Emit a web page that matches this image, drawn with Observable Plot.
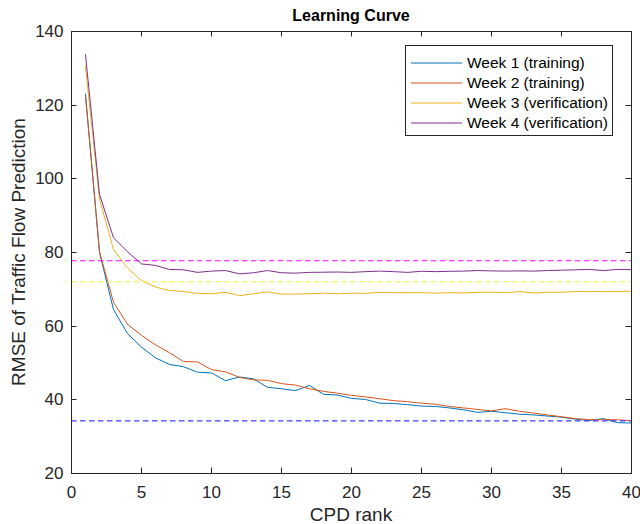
<!DOCTYPE html>
<html>
<head>
<meta charset="utf-8">
<script src="https://cdn.jsdelivr.net/npm/d3@7"></script>
<script src="https://cdn.jsdelivr.net/npm/@observablehq/plot@0.6"></script>
<style>
  html, body { margin: 0; padding: 0; background: #fff; }
  #chart { width: 640px; height: 524px; }
</style>
</head>
<body>
<div id="chart"></div>
<script>
const ranks = [1,2,3,4,5,6,7,8,9,10,11,12,13,14,15,16,17,18,19,20,21,22,23,24,25,26,27,28,29,30,31,32,33,34,35,36,37,38,39,40];
const week1 = [123,80,64.5,58,54.3,51.4,49.6,49.0,47.5,47.3,45.2,46.2,45.7,43.4,43.0,42.5,43.9,41.5,41.3,40.4,40.1,39.1,39.0,38.7,38.3,38.2,37.8,37.3,36.6,36.9,36.5,36.1,35.9,35.6,35.3,34.75,34.4,34.9,33.8,33.7];
const week2 = [122.5,80.2,66.5,60.5,57.5,54.9,52.8,50.4,50.3,48.2,47.6,46.1,45.4,45.3,44.4,44.0,43.0,42.3,41.8,41.2,40.8,40.3,39.8,39.5,39.1,38.8,38.2,37.8,37.4,37.0,37.6,36.9,36.4,35.9,35.4,34.9,34.6,34.6,34.6,34.3];
const week3 = [130.5,94.5,80.8,75.8,72.4,70.6,69.7,69.4,68.9,68.8,69.2,68.3,68.8,69.3,68.7,68.7,68.8,68.95,68.8,68.95,68.9,69.2,69.1,69.1,69.1,68.95,69.1,69.0,69.2,69.2,69.1,69.4,69.0,69.2,69.2,69.4,69.4,69.4,69.4,69.5];
const week4 = [133.7,95.8,84.0,80.2,76.9,76.5,75.4,75.3,74.6,74.95,75.1,74.2,74.5,75.1,74.5,74.4,74.6,74.65,74.7,74.6,74.8,74.95,74.8,74.6,74.9,74.8,74.9,74.95,75.1,75.0,74.95,75.0,74.95,75.1,75.2,75.3,75.4,75.1,75.4,75.35];
const seriesNames = ["Week 1 (training)", "Week 2 (training)", "Week 3 (verification)", "Week 4 (verification)"];
const seriesColors = ["#0072BD", "#D95319", "#EDB120", "#7E2F8E"];
const refLevels = [77.75, 72.05, 34.3];
const refColors = ["#ff00ff", "#f2f23a", "#3c3cff"];
const xTicks = [0,5,10,15,20,25,30,35,40];
const yTicks = [20,40,60,80,100,120,140];

const allSeries = [week1, week2, week3, week4];
const rows = [];
allSeries.forEach((vals, s) => vals.forEach((v, i) => rows.push({rank: ranks[i], rmse: v, series: seriesNames[s]})));

const axisColor = "#262626";

function innerTicks(index, scales, values, dims) {
  const {x, y} = scales;
  const L = dims.marginLeft, R = dims.width - dims.marginRight;
  const T = dims.marginTop, B = dims.height - dims.marginBottom;
  const g = d3.create("svg:g").attr("stroke", axisColor).attr("stroke-width", 1);
  for (const t of xTicks) {
    const px = Math.round(x(t)) + 0.5;
    g.append("line").attr("x1", px).attr("x2", px).attr("y1", B).attr("y2", B - 5.5);
    g.append("line").attr("x1", px).attr("x2", px).attr("y1", T).attr("y2", T + 5.5);
  }
  for (const t of yTicks) {
    const py = Math.round(y(t)) + 0.5;
    g.append("line").attr("x1", L).attr("x2", L + 5.5).attr("y1", py).attr("y2", py);
    g.append("line").attr("x1", R).attr("x2", R - 5.5).attr("y1", py).attr("y2", py);
  }
  return g.node();
}

const marks = [];
seriesNames.forEach((name, s) => {
  marks.push(Plot.line(rows.filter(d => d.series === name), {x: "rank", y: "rmse", stroke: seriesColors[s], strokeWidth: 1, clip: true}));
});
refLevels.forEach((lv, i) => {
  marks.push(Plot.ruleY([lv], {stroke: refColors[i], strokeWidth: 1.1, strokeDasharray: "5.5,3.5"}));
});
marks.push(Plot.axisX({ticks: xTicks, tickSize: 0, tickPadding: 12, label: null, tickFormat: d => String(d)}));
marks.push(Plot.axisY({ticks: yTicks, tickSize: 0, tickPadding: 8, label: null, tickFormat: d => String(d)}));
marks.push(innerTicks);
marks.push(Plot.frame({stroke: axisColor, strokeWidth: 1}));

const plot = Plot.plot({
  width: 640,
  height: 524,
  marginLeft: 71,
  marginRight: 9,
  marginTop: 31,
  marginBottom: 51,
  x: {domain: [0, 40]},
  y: {domain: [20, 140]},
  style: {fontFamily: "'Liberation Sans', Arial, sans-serif", fontSize: "17px", color: axisColor, background: "#fff"},
  marks
});

const svg = d3.select(plot);

svg.append("text").attr("x", 351).attr("y", 21).attr("text-anchor", "middle")
  .attr("font-weight", "bold").attr("font-size", 16).attr("fill", "#000").text("Learning Curve");
svg.append("text").attr("x", 351).attr("y", 521).attr("text-anchor", "middle")
  .attr("font-size", 19).attr("fill", axisColor).text("CPD rank");
svg.append("text").attr("transform", "translate(25,252) rotate(-90)").attr("text-anchor", "middle")
  .attr("font-size", 19).attr("fill", axisColor).text("RMSE of Traffic Flow Prediction");

const lg = svg.append("g");
lg.append("rect").attr("x", 405.5).attr("y", 45.5).attr("width", 207).attr("height", 90)
  .attr("fill", "#fff").attr("stroke", axisColor).attr("stroke-width", 1);
seriesNames.forEach((name, i) => {
  const cy = 63 + i * 20;
  lg.append("line").attr("x1", 411).attr("x2", 462).attr("y1", cy).attr("y2", cy)
    .attr("stroke", seriesColors[i]).attr("stroke-width", 1);
  lg.append("text").attr("x", 467).attr("y", cy).attr("dy", "0.35em").attr("text-anchor", "start")
    .attr("font-size", 15.5).attr("fill", "#000").text(name);
});

document.getElementById("chart").appendChild(plot);
</script>
</body>
</html>
